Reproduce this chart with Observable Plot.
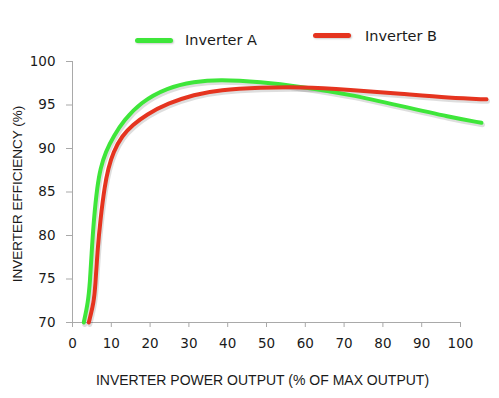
<!DOCTYPE html>
<html><head><meta charset="utf-8">
<script src="https://cdn.jsdelivr.net/npm/d3@7"></script>
<script src="https://cdn.jsdelivr.net/npm/@observablehq/plot@0.6"></script>
<style>
html,body{margin:0;padding:0;background:#fff;}
#wrap{position:relative;width:499px;height:398px;overflow:hidden;}
.leg{position:absolute;font-family:"DejaVu Sans";font-size:14.5px;color:#1a1a1a;white-space:nowrap;line-height:1;}
.sw{position:absolute;height:5px;border-radius:2.5px;box-shadow:1px 1px 2px rgba(0,0,0,0.2);}
</style></head><body><div id="wrap"></div>
<script>
// ---- data ----
const seriesNames = ["Inverter A", "Inverter B"];
const seriesColors = ["#3ee63a", "#e5341f"];

const powerA = [2.9, 4.0, 4.5, 4.9, 5.5, 6.4, 7.2, 8.5, 10.7, 13.2, 17.5, 24.4, 31.3, 38, 48.5, 58.8, 71.6, 84.5, 97.4, 105.4];
const effA   = [70, 72.3, 74.6, 77.8, 81.9, 85.7, 87.7, 89.6, 91.5, 93.2, 95.3, 97.0, 97.7, 97.95, 97.65, 97.1, 96.2, 94.9, 93.6, 92.95];

const powerB = [4.2, 5.5, 5.9, 6.4, 7.2, 8.3, 9.2, 10.5, 12.8, 15.5, 19, 24.6, 31.3, 38, 48.5, 58.8, 71.6, 84.5, 97.4, 106.7];
const effB   = [70, 72.3, 74.3, 78.1, 81.9, 85.7, 87.7, 89.6, 91.5, 92.7, 93.9, 95.2, 96.2, 96.75, 97.0, 97.1, 96.75, 96.3, 95.8, 95.65];

const xTicks = [0, 10, 20, 30, 40, 50, 60, 70, 80, 90, 100];
const yTicks = [70, 75, 80, 85, 90, 95, 100];
const xTitle = "INVERTER POWER OUTPUT (% OF MAX OUTPUT)";
const yTitle = "INVERTER EFFICIENCY (%)";

// ---- build table ----
const rows = [
  ...powerA.map((p, i) => ({series: seriesNames[0], x: p, y: effA[i]})),
  ...powerB.map((p, i) => ({series: seriesNames[1], x: p, y: effB[i]}))
];

const axisColor = "#a9a9a9";
const curve = "basis";
const chart = Plot.plot({
  width: 499, height: 398,
  marginTop: 61, marginBottom: 76, marginLeft: 72, marginRight: 39,
  style: {background: "transparent", overflow: "visible"},
  x: {domain: [0, 100]},
  y: {domain: [70, 100]},
  color: {domain: seriesNames, range: seriesColors},
  marks: [
    Plot.ruleX([0], {stroke: axisColor, strokeWidth: 1}),
    Plot.ruleY([70], {stroke: axisColor, strokeWidth: 1}),
    Plot.axisX({ticks: xTicks, tickSize: 5, tickPadding: 11, stroke: axisColor, fill: "#1a1a1a",
      fontSize: 13.5, fontFamily: "DejaVu Sans", label: null, tickFormat: d => String(d)}),
    Plot.axisY({ticks: yTicks, tickSize: 6, tickPadding: 11, stroke: axisColor, fill: "#1a1a1a",
      fontSize: 13.5, fontFamily: "DejaVu Sans", label: null, tickFormat: d => String(d)}),
    Plot.text([xTitle], {frameAnchor: "bottom", textAnchor: "middle", lineAnchor: "middle",
      dy: 58, dx: -4, fontSize: 14, fontFamily: "Liberation Sans", fill: "#1a1a1a"}),
    Plot.text([yTitle], {frameAnchor: "left", textAnchor: "middle", lineAnchor: "middle",
      rotate: -90, dx: -55, dy: 2, fontSize: 13.5, fontFamily: "Liberation Sans", fill: "#1a1a1a"}),
    Plot.line(rows, {x: "x", y: "y", z: "series", stroke: "#000", strokeOpacity: 0.13,
      strokeWidth: 5, dx: 1, dy: 2, curve}),
    Plot.line(rows.filter(d => d.series === seriesNames[0]), {x: "x", y: "y", stroke: "series",
      strokeWidth: 4, curve}),
    Plot.line(rows.filter(d => d.series === seriesNames[1]), {x: "x", y: "y", stroke: "series",
      strokeWidth: 4, curve})
  ]
});

const wrap = document.getElementById("wrap");
wrap.appendChild(chart);

// ---- legend (HTML overlay above the plot area) ----
const legPos = [{sx: 135, sy: 38, tx: 185, ty: 33}, {sx: 313, sy: 33, tx: 365, ty: 29}];
seriesNames.forEach((name, i) => {
  const p = legPos[i];
  const sw = document.createElement("div");
  sw.className = "sw";
  sw.style.left = p.sx + "px"; sw.style.top = p.sy + "px"; sw.style.width = "38px";
  sw.style.background = seriesColors[i];
  wrap.appendChild(sw);
  const t = document.createElement("div");
  t.className = "leg";
  t.style.left = p.tx + "px"; t.style.top = p.ty + "px";
  t.textContent = name;
  wrap.appendChild(t);
});
</script></body></html>
